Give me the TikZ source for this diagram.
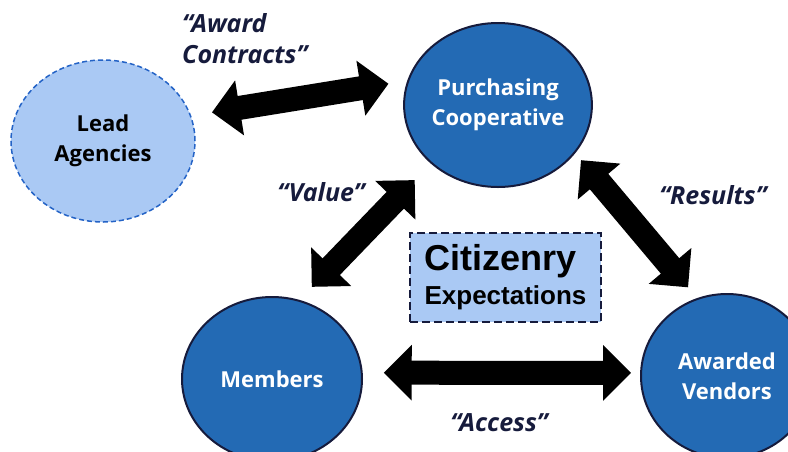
\documentclass[tikz,border=0pt]{standalone}
\usepackage{fontspec}
\setmainfont{Open Sans}
\newfontfamily\boxfont{Liberation Sans}
\usetikzlibrary{arrows.meta,shapes.geometric}

\definecolor{coopblue}{HTML}{236AB4}
\definecolor{paleblue}{HTML}{AAC9F4}
\definecolor{navy}{HTML}{161B3C}
\definecolor{dashblue}{HTML}{2463C6}

\begin{document}
\begin{tikzpicture}[x=1pt, y=-1pt,
    party/.style={ellipse, draw=navy, line width=2pt, fill=coopblue, text=white,
        font=\bfseries\fontsize{22}{30}\selectfont, align=center,
        minimum width=176pt, minimum height=164pt, inner sep=0pt},
    flow/.style={line width=24pt,
        {Triangle[length=28pt,width=54pt]}-{Triangle[length=28pt,width=54pt]}},
    saying/.style={text=navy, font=\bfseries\itshape\fontsize{25}{31}\selectfont,
        align=left, inner sep=0pt}
]
    \useasboundingbox (0,0) rectangle (788,451);

    % Lead agencies (dashed, outside the cooperative)
    \node[party, fill=paleblue, draw=dashblue, dash pattern=on 5pt off 3pt,
          line width=1.5pt, text=black, minimum width=184pt, minimum height=162pt]
          (lead) at (103,141) {Lead\\Agencies};

    % The three parties
    \node[party] (coop) at (498,105) {Purchasing\\Cooperative};
    \node[party, minimum width=180pt] (members) at (272,379) {Members};
    \node[party, minimum width=172pt] (vendors) at (727,376) {Awarded\\Vendors};

    % Citizenry in the middle
    \node[draw=navy, dash pattern=on 8pt off 4pt, line width=1.5pt, fill=paleblue,
          minimum width=191pt, minimum height=89pt, inner sep=0pt, align=left,
          font=\boxfont\bfseries\fontsize{26}{34}\selectfont]
          (citizens) at (505.5,277.5) {{\fontsize{36}{34}\selectfont Citizenry}\\Expectations};

    % Two-way flows
    \draw[flow, shorten <=21pt, shorten >=19pt] (lead.16) -- (coop.165);
    \draw[flow, shorten <=18pt, shorten >=23pt] (members.71) -- (coop.221);
    \draw[flow, shorten <=9pt, shorten >=14pt] (coop.-32) -- (vendors.111);
    \draw[flow, shorten <=21pt, shorten >=9pt] (members.4) -- (vendors.178);

    % Flow labels
    \node[saying, anchor=north west] (awardlbl) at (182,13) {“Award\\Contracts”};
    \node[saying] (valuelbl) at (321,192) {“Value”};
    \node[saying] (resultslbl) at (713,195) {“Results”};
    \node[saying] (accesslbl) at (499,423) {“Access”};
\end{tikzpicture}
\end{document}
